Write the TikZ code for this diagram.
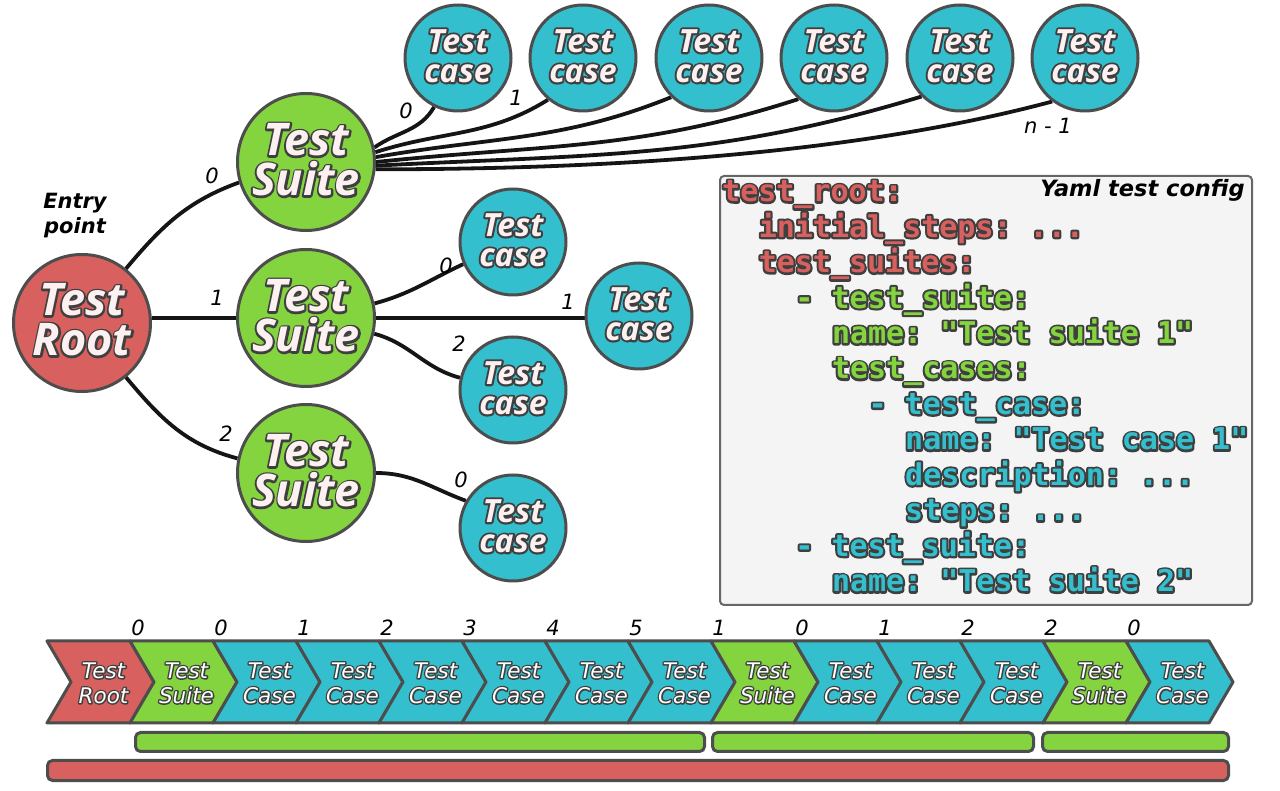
\documentclass[tikz,border=0pt]{standalone}
\usepackage{fontspec}
\setmainfont{DejaVu Sans}
\newfontfamily\cf{Open Sans}
\newfontfamily\ymono[Ligatures=TeXOff]{DejaVu Sans Mono}
\definecolor{cred}{HTML}{D8605E}
\definecolor{cgreen}{HTML}{84D43F}
\definecolor{ccyan}{HTML}{34BFCE}
\definecolor{cborder}{HTML}{4D4D4D}
\definecolor{ctxt}{HTML}{FDF0F0}
\definecolor{cedge}{HTML}{151515}
\definecolor{cbox}{HTML}{F4F4F4}
\definecolor{cboxline}{HTML}{666666}
% outlined text: a stroked copy underneath, the filled text on top
\newcommand\ol[2]{\leavevmode\rlap{\special{pdf:literal direct 1 Tr #1 w 1 j 1 J 0.247 0.247 0.247 RG}#2\special{pdf:literal direct 0 Tr}}#2}
\newcommand\ct[1]{\ol{4}{#1}}
\newcommand\cs[1]{\ol{2.8}{#1}}
\newcommand\cy[1]{\ol{4.2}{#1}}
\pgfdeclarelayer{bg}
\pgfsetlayers{bg,main}
\tikzset{
  bigc/.style={circle, draw=cborder, line width=3pt, minimum size=137pt, inner sep=0pt},
  smallc/.style={circle, draw=cborder, line width=3pt, fill=ccyan, minimum size=106pt, inner sep=0pt},
  bigtxt/.style={text=ctxt, align=center, inner sep=0pt, font=\cf\bfseries\itshape\fontsize{45}{40}\selectfont},
  smalltxt/.style={text=ctxt, align=center, inner sep=0pt, font=\cf\bfseries\itshape\fontsize{32}{30}\selectfont},
  edge/.style={draw=cedge, line width=3.8pt},
  lbl/.style={inner sep=0pt, font=\itshape\fontsize{21}{21}\selectfont},
  chev/.style={draw=cborder, line width=3pt, line join=round},
  chtxt/.style={text=white, align=center, inner sep=0pt, font=\itshape\fontsize{21.5}{25}\selectfont},
  bar/.style={draw=cborder, line width=3pt, rounded corners=5pt},
  ym/.style={anchor=base west, inner sep=0pt, font=\ymono\bfseries\frenchspacing\fontsize{30}{30}\selectfont},
}
\begin{document}
\begin{tikzpicture}[x=1pt,y=1pt]
\useasboundingbox (0,0) rectangle (1280,790);

% tree nodes
\node[bigc, fill=cred] (root) at (82,467) {};
\node[bigc, fill=cgreen] (s0) at (306,628) {};
\node[bigc, fill=cgreen] (s1) at (306,472) {};
\node[bigc, fill=cgreen] (s2) at (306,317) {};
\node[bigtxt] (roott) at (82,470) {\ct{Test}\\\ct{Root}};
\node[bigtxt] (s0t) at (306,630) {\ct{Test}\\\ct{Suite}};
\node[bigtxt] (s1t) at (306,474) {\ct{Test}\\\ct{Suite}};
\node[bigtxt] (s2t) at (306,319) {\ct{Test}\\\ct{Suite}};

\foreach \n/\x in {t0/458,t1/583,t2/709,t3/834,t4/960,t5/1085}{
  \node[smallc] (\n) at (\x,732) {};
  \node[smalltxt] (\n t) at (\x,734) {\ct{Test}\\\ct{case}};
}
\foreach \n/\x/\y in {c10/513/548,c11/639/474,c12/513/400,c20/513/262}{
  \node[smallc] (\n) at (\x,\y) {};
  \node[smalltxt] (\n t) at (\x,\y+2) {\ct{Test}\\\ct{case}};
}

% edges
\begin{pgfonlayer}{bg}
\draw[edge] (root.51) to[out=50,in=200] (s0.197);
\draw[edge] (s1.west) -- (s1.west -| root.east);
\draw[edge] (root.-51) to[out=-50,in=165] (s2.168);
\draw[edge] (s0.12) to[out=35,in=240] (t0.-116);
\draw[edge] (s0.8) to[out=18,in=212] (t1.-130);
\draw[edge] (s0.4) to[out=10,in=202] (t2.-134);
\draw[edge] (s0.0) to[out=6,in=198] (t3.-131);
\draw[edge] (s0.-3) to[out=3,in=197] (t4.-135);
\draw[edge] (s0.-6) to[out=0,in=195,looseness=0.8] (t5.-127);
\draw[edge] (s1.12) to[out=15,in=205] (c10.-156);
\draw[edge] (s1.east) -- (s1.east -| c11.west);
\draw[edge] (s1.-13) to[out=-15,in=165] (c12.167);
\draw[edge] (s2.east) to[out=0,in=160] (c20.150);
\end{pgfonlayer}

% edge labels
\node[lbl] (l00) at (212,614) {0};
\node[lbl] (l01) at (217,492) {1};
\node[lbl] (l02) at (226,356) {2};
\node[lbl] (lt0) at (406,679) {0};
\node[lbl] (lt1) at (516,692) {1};
\node[lbl] (lt5) at (1048,664) {n - 1};
\node[lbl] (lc10) at (446,524) {0};
\node[lbl] (lc11) at (568,488) {1};
\node[lbl] (lc12) at (459,446) {2};
\node[lbl] (lc20) at (461,310) {0};
\node[align=center, inner sep=0pt, font=\bfseries\itshape\fontsize{21}{25}\selectfont] (entry) at (75,574) {Entry\\point};

% yaml box
\node[draw=cboxline, fill=cbox, line width=2pt, rounded corners=4pt, minimum width=532pt, minimum height=429pt, inner sep=0pt] (ybox) at (986,399.5) {};
\node[anchor=east, inner sep=0pt, font=\bfseries\itshape\fontsize{22.5}{22.5}\selectfont] (ytitle) at (1245,600) {Yaml test config};
\node[ym, text=cred] (y1) at (722,588.3) {\cy{test\_root:}};
\node[ym, text=cred] (y2) at (758.6,552.85) {\cy{initial\_steps: ...}};
\node[ym, text=cred] (y3) at (758.6,517.4) {\cy{test\_suites:}};
\node[ym, text=cgreen] (y4) at (795.2,481.95) {\cy{- test\_suite:}};
\node[ym, text=cgreen] (y5) at (831.8,446.5) {\cy{name: "Test suite 1"}};
\node[ym, text=cgreen] (y6) at (831.8,411.05) {\cy{test\_cases:}};
\node[ym, text=ccyan] (y7) at (868.4,375.6) {\cy{- test\_case:}};
\node[ym, text=ccyan] (y8) at (905,340.15) {\cy{name: "Test case 1"}};
\node[ym, text=ccyan] (y9) at (905,304.7) {\cy{description: ...}};
\node[ym, text=ccyan] (y10) at (905,269.25) {\cy{steps: ...}};
\node[ym, text=ccyan] (y11) at (795.2,233.8) {\cy{- test\_suite:}};
\node[ym, text=ccyan] (y12) at (831.8,198.35) {\cy{name: "Test suite 2"}};

% chevrons
\foreach \i/\c/\w in {0/cred/Root,1/cgreen/Suite,2/ccyan/Case,3/ccyan/Case,4/ccyan/Case,5/ccyan/Case,6/ccyan/Case,7/ccyan/Case,8/cgreen/Suite,9/ccyan/Case,10/ccyan/Case,11/ccyan/Case,12/cgreen/Suite,13/ccyan/Case}{
  \pgfmathsetmacro\xa{47+83*\i}
  \pgfmathsetmacro\xb{\xa+83}
  \draw[chev, fill=\c] (\xa,149) -- (\xb,149) -- (\xb+24,108) -- (\xb,67) -- (\xa,67) -- (\xa+24,108) -- cycle;
  \node[chtxt] (ch\i) at (\xa+56.5,107) {\cs{Test}\\\cs{\w}};
}
\foreach \i/\v in {1/0,2/0,3/1,4/2,5/3,6/4,7/5,8/1,9/0,10/1,11/2,12/2,13/0}{
  \node[lbl] (cl\i) at (47+83*\i+8,162) {\v};
}

% bars
\draw[bar, fill=cgreen] (135.5,57.5) rectangle (704.5,38.5);
\draw[bar, fill=cgreen] (712.5,57.5) rectangle (1033.5,38.5);
\draw[bar, fill=cgreen] (1042.5,57.5) rectangle (1228.5,38.5);
\draw[bar, fill=cred] (47.5,29.5) rectangle (1228.5,9.5);
\end{tikzpicture}
\end{document}
